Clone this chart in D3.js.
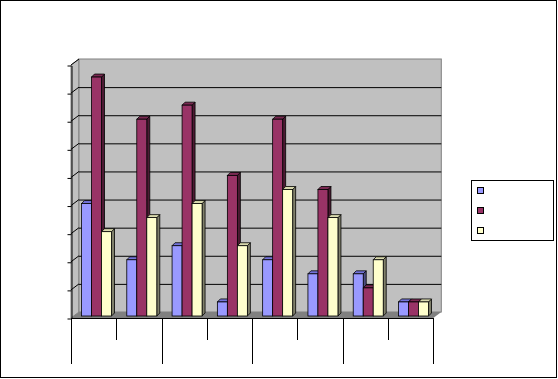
<html>
<head>
<script src="https://cdn.jsdelivr.net/npm/d3@7"></script>
</head>
<body style="margin:0">
<div id="container1"></div>
<script>

// chart data (the original has no visible labels)
const categories = ["c1", "c2", "c3", "c4", "c5", "c6", "c7", "c8"];
const seriesNames = ["", "", ""];
const series1 = [4.0, 2.0, 2.5, 0.5, 2.0, 1.5, 1.5, 0.5];
const series2 = [8.5, 7.0, 7.5, 5.0, 7.0, 4.5, 1.0, 0.5];
const series3 = [3.0, 3.5, 4.0, 2.5, 4.5, 3.5, 2.0, 0.5];
const yTicks = [0, 1, 2, 3, 4, 5, 6, 7, 8, 9];

const colors = [
  {front: "#9999ff", top: "#7373d9", side: "#4d4d80"},
  {front: "#993366", top: "#7a2952", side: "#4d1a33"},
  {front: "#ffffcc", top: "#d9d9ad", side: "#80806b"}
];

const width = 558, height = 379;
const dx = 8, dy = 6;          // wall depth
const bdx = 3, bdy = 3;        // bar depth
const plotLeft = 71, plotRight = 433.3, plotBase = 318, plotTop = 65;

const svg = d3.select("#container1")
  .append("svg")
    .attr("width", width)
    .attr("height", height);

svg.append("rect")
    .attr("x", 0.5).attr("y", 0.5)
    .attr("width", 556).attr("height", 377)
    .attr("fill", "white").attr("stroke", "black");

const x = d3.scaleBand()
    .domain(categories)
    .range([plotLeft, plotRight]);

const y = d3.scaleLinear()
    .domain([0, 9])
    .range([plotBase, plotTop]);

const barBase = plotBase - 2;
const yb = d3.scaleLinear()
    .domain([0, 9])
    .range([barBase, barBase - (plotBase - plotTop)]);

// side wall
svg.append("polygon")
    .attr("points", [[plotLeft, plotBase], [plotLeft, plotTop], [plotLeft + dx, plotTop - dy], [plotLeft + dx, plotBase - dy]].join(" "))
    .attr("fill", "#c0c0c0").attr("stroke", "#808080");

// back wall
svg.append("rect")
    .attr("x", plotLeft + dx).attr("y", plotTop - dy)
    .attr("width", plotRight - plotLeft).attr("height", plotBase - plotTop)
    .attr("fill", "#c0c0c0").attr("stroke", "#808080");

// gridlines on the back wall and the side wall
const grid = svg.append("g");
yTicks.slice(1, -1).forEach(function(t) {
  grid.append("line")
      .attr("x1", plotLeft + dx).attr("x2", plotRight + dx)
      .attr("y1", y(t) - dy + 0.5).attr("y2", y(t) - dy + 0.5)
      .attr("stroke", "black");
});
yTicks.slice(1).forEach(function(t) {
  grid.append("line")
      .attr("x1", plotLeft).attr("x2", plotLeft + dx)
      .attr("y1", y(t)).attr("y2", y(t) - dy)
      .attr("stroke", "black");
});

// floor
svg.append("polygon")
    .attr("points", [[plotLeft, plotBase], [plotRight, plotBase], [plotRight + dx, plotBase - dy], [plotLeft + dx, plotBase - dy]].join(" "))
    .attr("fill", "#808080");

// value axis
const yAxis = svg.append("g")
    .attr("transform", `translate(${plotLeft + 0.5},0.5)`)
    .call(d3.axisLeft(y).tickValues(yTicks).tickSize(4).tickSizeOuter(0).tickFormat(""));
yAxis.selectAll("path, line").attr("stroke", "black");

// category axis
svg.append("line")
    .attr("x1", plotLeft).attr("x2", plotRight)
    .attr("y1", plotBase + 0.5).attr("y2", plotBase + 0.5)
    .attr("stroke", "black");
d3.range(categories.length + 1).forEach(function(i) {
  const xx = Math.round(plotLeft + i * x.bandwidth()) + 0.5;
  svg.append("line")
      .attr("x1", xx).attr("x2", xx)
      .attr("y1", plotBase).attr("y2", i % 2 === 0 ? 364 : 340)
      .attr("stroke", "black");
});

// bars
const allSeries = [series1, series2, series3];
const barW = 10, offset = 10.5;
allSeries.forEach(function(vals, s) {
  const c = colors[s];
  const g = svg.append("g");
  vals.forEach(function(v, i) {
    const x0 = x(categories[i]) + offset + s * barW;
    const x1 = x0 + barW;
    const y0 = yb(v);
    g.append("polygon")
        .attr("points", [[x1, barBase], [x1, y0], [x1 + bdx, y0 - bdy], [x1 + bdx, barBase - bdy]].join(" "))
        .attr("fill", c.side).attr("stroke", "black").attr("stroke-width", 0.8);
    g.append("polygon")
        .attr("points", [[x0, y0], [x1, y0], [x1 + bdx, y0 - bdy], [x0 + bdx, y0 - bdy]].join(" "))
        .attr("fill", c.top).attr("stroke", "black").attr("stroke-width", 0.8);
    g.append("rect")
        .attr("x", x0).attr("y", y0)
        .attr("width", barW).attr("height", barBase - y0)
        .attr("fill", c.front).attr("stroke", "black").attr("stroke-width", 0.8);
  });
});

// legend
const legend = svg.append("g");
legend.append("rect")
    .attr("x", 471.5).attr("y", 180.5)
    .attr("width", 82).attr("height", 60)
    .attr("fill", "white").attr("stroke", "black");
seriesNames.forEach(function(name, i) {
  legend.append("rect")
      .attr("x", 477.5).attr("y", 187.5 + i * 20)
      .attr("width", 6).attr("height", 6)
      .attr("fill", colors[i].front).attr("stroke", "black");
  legend.append("text")
      .attr("x", 490).attr("y", 194 + i * 20)
      .style("font-family", "Arial").style("font-size", "10px")
      .text(name);
});

</script>
</body>
</html>
